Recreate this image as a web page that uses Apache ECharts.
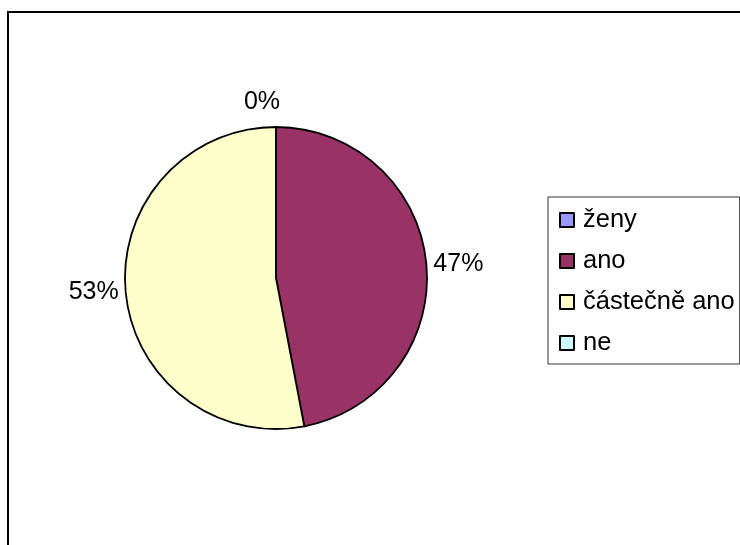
<!DOCTYPE html>
<html>
<head>
<meta charset="utf-8">
<script src="https://cdn.jsdelivr.net/npm/echarts@6/dist/echarts.min.js"></script>
<style>
  html, body { margin: 0; padding: 0; background: #fff; }
  #chart { width: 740px; height: 545px; }
</style>
</head>
<body>
<div id="chart"></div>
<script>
// kategorie a hodnoty (procenta)
var categories = ['ženy', 'ano', 'částečně ano', 'ne'];
var values = [0, 47, 53, 0];
var colors = ['#9999FF', '#993366', '#FFFFCC', '#CCFFFF'];
var showLabel = [true, true, true, false];

var chart = echarts.init(document.getElementById('chart'));

var pieData = categories.map(function (name, i) {
  return {
    name: name,
    value: values[i],
    itemStyle: { color: colors[i] },
    label: { show: showLabel[i] }
  };
});

chart.setOption({
  animation: false,
  textStyle: { fontFamily: 'Arial, "Liberation Sans", sans-serif' },
  // rámeček grafu
  graphic: [{
    type: 'rect',
    shape: { x: 8, y: 12, width: 800, height: 600 },
    style: { fill: 'none', stroke: '#000', lineWidth: 2 },
    silent: true
  }],
  legend: {
    orient: 'vertical',
    left: 548,
    top: 197,
    padding: [10, 5, 8, 11],
    itemWidth: 14,
    itemHeight: 14,
    itemGap: 15,
    icon: 'rect',
    borderColor: '#333',
    borderWidth: 1,
    selectedMode: false,
    data: categories,
    textStyle: {
      color: '#000',
      fontSize: 25.5,
      fontFamily: 'Arial, "Liberation Sans", sans-serif',
      padding: [0, 0, 0, 4]
    }
  },
  series: [{
    type: 'pie',
    center: [276, 278],
    radius: 151,
    startAngle: 90,
    clockwise: true,
    silent: true,
    emphasis: { disabled: true },
    stillShowZeroSum: true,
    itemStyle: { borderColor: '#000', borderWidth: 1.8 },
    label: {
      position: 'outside',
      formatter: '{d}%',
      color: '#000',
      fontSize: 25,
      fontFamily: 'Arial, "Liberation Sans", sans-serif',
      distanceToLabelLine: 7
    },
    labelLine: { show: false, length: 0, length2: 0 },
    labelLayout: function (params) {
      if (params.dataIndex === 0) {
        return { align: 'center', dx: -7, dy: -25 };
      }
    },
    data: pieData
  }]
});
</script>
</body>
</html>
